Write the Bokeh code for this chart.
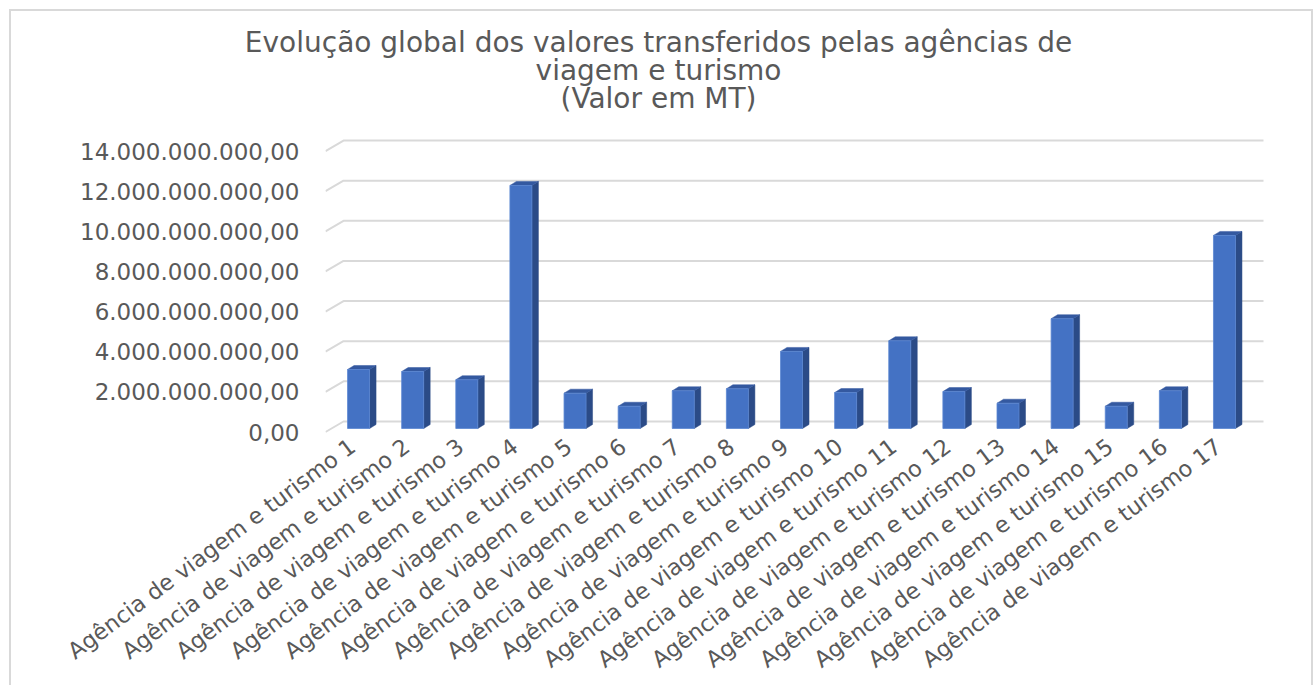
from bokeh.plotting import figure
from bokeh.layouts import column, row
from bokeh.models import Range1d, FixedTicker
from bokeh.core.properties import value
from bokeh.embed import file_html
from bokeh.resources import INLINE

# ---------------- data ----------------
categories = [
    "Agência de viagem e turismo 1", "Agência de viagem e turismo 2",
    "Agência de viagem e turismo 3", "Agência de viagem e turismo 4",
    "Agência de viagem e turismo 5", "Agência de viagem e turismo 6",
    "Agência de viagem e turismo 7", "Agência de viagem e turismo 8",
    "Agência de viagem e turismo 9", "Agência de viagem e turismo 10",
    "Agência de viagem e turismo 11", "Agência de viagem e turismo 12",
    "Agência de viagem e turismo 13", "Agência de viagem e turismo 14",
    "Agência de viagem e turismo 15", "Agência de viagem e turismo 16",
    "Agência de viagem e turismo 17",
]
values = [
    2.94e9, 2.84e9, 2.43e9, 12.11e9, 1.76e9, 1.11e9, 1.88e9, 1.98e9, 3.84e9,
    1.79e9, 4.37e9, 1.84e9, 1.26e9, 5.47e9, 1.11e9, 1.88e9, 9.62e9,
]
y_ticks = [0, 2e9, 4e9, 6e9, 8e9, 10e9, 12e9, 14e9]
y_tick_labels = [
    "0,00", "2.000.000.000,00", "4.000.000.000,00", "6.000.000.000,00",
    "8.000.000.000,00", "10.000.000.000,00", "12.000.000.000,00",
    "14.000.000.000,00",
]
title_lines = [
    "Evolução global dos valores transferidos pelas agências de",
    "viagem e turismo",
    "(Valor em MT)",
]

# ---------------- geometry / style ----------------
OX, OY = 11, 11        # content origin on the page (inside the border)
W = 1300
TITLE_H = 119
MAIN_H = 555

PXX = 54.12            # px per category
PXY = 20.07 / 1e9      # px per MT
WALL_DX = 18 / PXX     # 3-D depth of the side wall
WALL_DY = 10.5 / PXY
BAR_FX = 6 / PXX       # bar front face offset inside the depth
BAR_FY = 3.5 / PXY
BAR_W = 22 / PXX
DEP_DX = 6.5 / PXX     # bar depth
DEP_DY = 4.0 / PXY
X0 = 0.5
X1 = X0 + 940 / PXX
XWALL_END = X0 + 938 / PXX

FRONT = "#4472C4"
SIDE = "#2B4B87"
TOP = "#3459A0"
GRID = "#D9D9D9"
TXT = "#595959"
FONT = "DejaVu Sans"

# ---------------- title strip ----------------
t = figure(
    width=W, height=TITLE_H,
    x_range=Range1d(0, W), y_range=Range1d(TITLE_H, 0),
    x_axis_type=None, y_axis_type=None,
    output_backend="svg", toolbar_location=None, min_border=0,
    background_fill_color="white", border_fill_color="white",
)
t.outline_line_color = None
t.grid.visible = False
t.text(
    x=[658 - OX] * 3, y=[42 - OY, 70 - OY, 98 - OY], text=title_lines,
    text_align="center", text_baseline="middle",
    text_font=value(FONT), text_font_size="28px", text_color=TXT,
)

# ---------------- main chart ----------------
p = figure(
    width=W, height=MAIN_H,
    x_range=Range1d(X0, X1),
    y_range=Range1d(-3.5 / PXY, 301.5 / PXY),
    output_backend="svg", toolbar_location=None,
    min_border_left=325 - OX, min_border_right=W - (1265 - OX),
    min_border_top=0, min_border_bottom=MAIN_H - 305,
    background_fill_color="white", border_fill_color="white",
)
p.outline_line_color = None
p.xgrid.visible = False
p.ygrid.visible = False

# back wall gridlines with their slanted side-wall part
gxs = [[X0, X0 + WALL_DX, XWALL_END] for _ in y_ticks]
gys = [[v, v + WALL_DY, v + WALL_DY] for v in y_ticks]
p.multi_line(gxs, gys, line_color=GRID, line_width=2)

# bars (front face, right side, top)
xc = [i + 1 + BAR_FX for i in range(len(values))]
left = [x - BAR_W / 2 for x in xc]
right = [x + BAR_W / 2 for x in xc]
bottom = [BAR_FY] * len(values)
top = [BAR_FY + v for v in values]

side_xs = [[r, r + DEP_DX, r + DEP_DX, r] for r in right]
side_ys = [[BAR_FY, BAR_FY + DEP_DY, tp + DEP_DY, tp] for tp in top]
top_xs = [[l, r, r + DEP_DX, l + DEP_DX] for l, r in zip(left, right)]
top_ys = [[tp, tp, tp + DEP_DY, tp + DEP_DY] for tp in top]

p.patches(side_xs, side_ys, fill_color=SIDE, line_color=SIDE, line_width=0.5)
p.patches(top_xs, top_ys, fill_color=TOP, line_color=TOP, line_width=0.5)
p.quad(left=left, right=right, bottom=bottom, top=top,
       fill_color=FRONT, line_color="#5A86D2", line_width=0.8)

# axes
p.yaxis.ticker = FixedTicker(ticks=y_ticks)
p.yaxis.major_label_overrides = {int(v): s for v, s in zip(y_ticks, y_tick_labels)}
p.yaxis.axis_line_color = None
p.yaxis.major_tick_line_color = None
p.yaxis.minor_tick_line_color = None
p.yaxis.major_label_standoff = 20
p.yaxis.major_label_text_font = FONT
p.yaxis.major_label_text_font_size = "23px"
p.yaxis.major_label_text_color = TXT

x_ticks = [i + 1 for i in range(len(categories))]
p.xaxis.ticker = FixedTicker(ticks=x_ticks)
p.xaxis.major_label_overrides = {x: c for x, c in zip(x_ticks, categories)}
p.xaxis.major_label_orientation = 0.64
p.xaxis.axis_line_color = None
p.xaxis.major_tick_line_color = None
p.xaxis.minor_tick_line_color = None
p.xaxis.major_label_standoff = 2
p.xaxis.major_label_text_font = FONT
p.xaxis.major_label_text_font_size = "22.5px"
p.xaxis.major_label_text_color = TXT

layout = column(
    row(t), p, spacing=0,
    styles={"border-top": "2px solid #D9D9D9",
            "border-left": "2px solid #D9D9D9",
            "border-right": "2px solid #D9D9D9",
            "margin-left": "9px", "margin-top": "9px",
            "background-color": "white"},
)

open("out.html", "w").write(file_html(layout, INLINE))
